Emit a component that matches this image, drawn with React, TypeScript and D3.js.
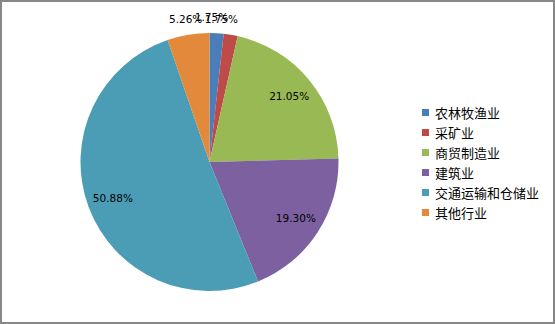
import React from "react";
import * as d3 from "d3";

const categories = ["农林牧渔业", "采矿业", "商贸制造业", "建筑业", "交通运输和仓储业", "其他行业"];
const counts = [1, 1, 12, 11, 29, 3];
const percentLabels = ["1.75%", "1.75%", "21.05%", "19.30%", "50.88%", "5.26%"];
const colors = ["#4A7EBB", "#BE4B48", "#98B954", "#7D60A0", "#4A9DB5", "#E3893C"];
// outside (true) or inside (false) label placement, with horizontal nudge for crowded small labels
const labelOutside = [true, true, false, false, false, true];
const labelNudge = [-6, -12, 0, 0, 0, 0];

const W = 555;
const H = 324;
const cx = 209.5;
const cy = 162;
const R = 129;

export default function App() {
  const pie = d3.pie<number>().value((d) => d).sort(null);
  const arcs = pie(counts);
  const arc = d3.arc<d3.PieArcDatum<number>>().innerRadius(0).outerRadius(R);
  const inLabelArc = d3.arc<d3.PieArcDatum<number>>().innerRadius(R * 0.8).outerRadius(R * 0.8);
  const outLabelArc = d3.arc<d3.PieArcDatum<number>>().innerRadius(R + 16).outerRadius(R + 16);

  const legendX = 422;
  const legendY0 = 109;
  const legendStep = 20;

  return (
    <svg
      width={W}
      height={H}
      style={{ position: "absolute", left: 0, top: 0, background: "#fff" }}
    >
      <rect x={1} y={1} width={W - 2} height={H - 2} fill="#fff" stroke="#878787" strokeWidth={2} />
      <g transform={`translate(${cx},${cy})`}>
        {arcs.map((a, i) => (
          <path key={i} d={arc(a) || ""} fill={colors[i]} />
        ))}
        {arcs.map((a, i) => {
          const [x, y] = labelOutside[i] ? outLabelArc.centroid(a) : inLabelArc.centroid(a);
          return (
            <text
              key={"l" + i}
              x={x + labelNudge[i]}
              y={y}
              textAnchor="middle"
              dominantBaseline="central"
              fontFamily="'DejaVu Sans', sans-serif"
              fontSize={10.5}
              fill="#000"
            >
              {percentLabels[i]}
            </text>
          );
        })}
      </g>
      <g>
        {categories.map((c, i) => (
          <g key={c} transform={`translate(${legendX},${legendY0 + i * legendStep})`}>
            <rect x={0} y={0} width={7} height={7} fill={colors[i]} />
            <text
              x={13}
              y={3.5}
              dominantBaseline="central"
              fontFamily="'Noto Sans CJK SC', sans-serif"
              fontSize={13}
              fill="#000"
            >
              {c}
            </text>
          </g>
        ))}
      </g>
    </svg>
  );
}
